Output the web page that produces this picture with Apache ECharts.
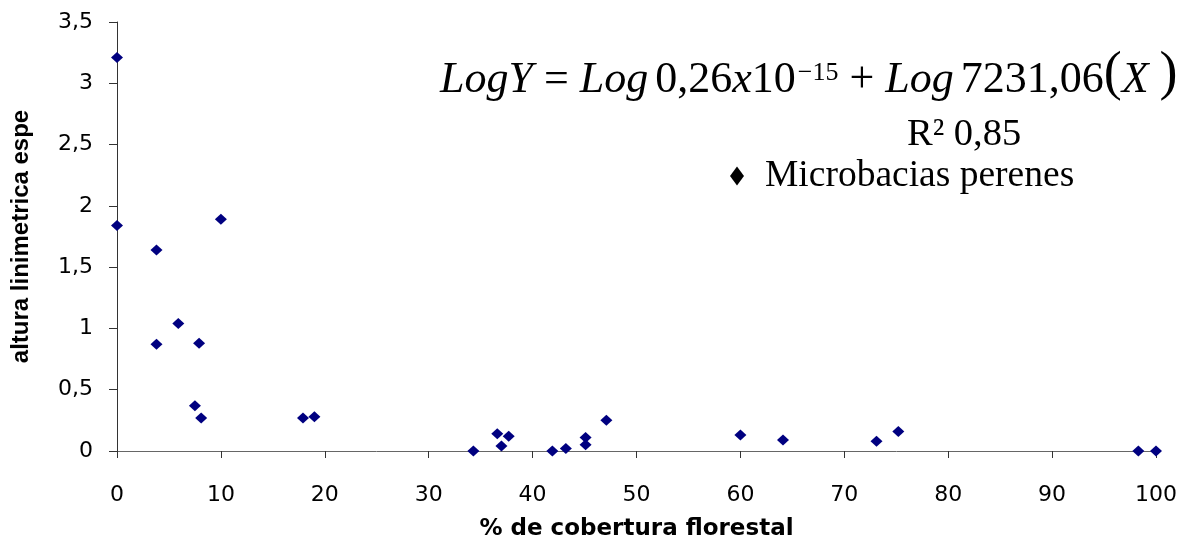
<!DOCTYPE html>
<html>
<head>
<meta charset="utf-8">
<script src="https://cdn.jsdelivr.net/npm/echarts@6/dist/echarts.min.js"></script>
<style>
  html, body { margin: 0; padding: 0; background: #fff; }
  #chart { width: 1190px; height: 540px; }
</style>
</head>
<body>
<div id="chart"></div>
<script>
// % de cobertura florestal for each microbacia
const coverage = [0, 0, 3.8, 10.0, 5.9, 3.8, 7.9, 7.5, 8.1, 17.9, 19.0,
  34.3, 36.6, 37.0, 37.7, 41.9, 43.2, 45.1, 45.1, 47.1,
  60.0, 64.1, 73.1, 75.2, 98.3, 100];
// altura linimetrica especifica for each microbacia
const altura = [3.21, 1.84, 1.64, 1.89, 1.04, 0.87, 0.88, 0.37, 0.27, 0.27, 0.28,
  0, 0.14, 0.04, 0.12, 0, 0.02, 0.11, 0.05, 0.25,
  0.13, 0.09, 0.08, 0.16, 0, 0];
const seriesName = 'Microbacias perenes';
const xTitle = '% de cobertura florestal';
const yTitle = 'altura linimetrica espe';
const r2Text = 'R² 0,85';

const points = coverage.map((x, i) => [x, altura[i]]);
const comma = v => String(v).replace('.', ',');

const chart = echarts.init(document.getElementById('chart'));
const serif = 'Liberation Serif, Times New Roman, serif';
const sans = 'Liberation Sans, Arial, sans-serif';
const wide = 'DejaVu Sans, Verdana, sans-serif';

chart.setOption({
  backgroundColor: '#fff',
  animation: false,
  grid: { left: 117, right: 34, top: 22, bottom: 89, containLabel: false, outerBoundsMode: 'none' },
  xAxis: {
    type: 'value', min: 0, max: 100, interval: 10,
    name: xTitle, nameLocation: 'middle', nameGap: 67,
    nameTextStyle: { fontFamily: wide, fontWeight: 'bold', fontSize: 23, color: '#000' },
    axisLine: { show: true, lineStyle: { color: '#666', width: 1 } },
    axisTick: { show: true, inside: false, length: 7, lineStyle: { color: '#333' } },
    axisLabel: { margin: 33, fontFamily: wide, fontSize: 22, color: '#000', formatter: comma },
    splitLine: { show: false }
  },
  yAxis: {
    type: 'value', min: 0, max: 3.5, interval: 0.5,
    name: yTitle, nameLocation: 'middle', nameGap: 84, nameRotate: 90,
    nameTextStyle: { fontFamily: sans, fontWeight: 'bold', fontSize: 24, color: '#000' },
    axisLine: { show: true, lineStyle: { color: '#333', width: 1 } },
    axisTick: { show: true, inside: false, length: 8, lineStyle: { color: '#333' } },
    axisLabel: { margin: 24, fontFamily: wide, fontSize: 22, color: '#000', formatter: comma },
    splitLine: { show: false }
  },
  legend: {
    show: true, left: 725, top: 152, orient: 'vertical',
    icon: 'diamond', itemWidth: 14, itemHeight: 19, itemGap: 0,
    itemStyle: { color: '#000', opacity: 1 },
    textStyle: { fontFamily: serif, fontSize: 37.5, color: '#000', padding: [0, 0, 0, 16] },
    data: [seriesName]
  },
  graphic: [
    {
      type: 'text', left: 440, top: 48,
      style: {
        text: '{i|LogY}{o|=}{i|Log}{g|0,26}{i|x}{n|10}{s|−15}{o|+}{i|Log}{g|7231,06}{p|(}{i|X }{p|)}',
        rich: {
          i: { fontFamily: serif, fontStyle: 'italic', fontSize: 44, fill: '#000', verticalAlign: 'bottom' },
          n: { fontFamily: serif, fontSize: 44, fill: '#000', verticalAlign: 'bottom' },
          g: { fontFamily: serif, fontSize: 44, fill: '#000', verticalAlign: 'bottom', padding: [0, 0, 0, 7] },
          o: { fontFamily: serif, fontSize: 44, fill: '#000', verticalAlign: 'bottom', padding: [0, 11, 0, 11] },
          s: { fontFamily: serif, fontSize: 26, fill: '#000', verticalAlign: 'top', padding: [12, 0, 0, 2] },
          p: { fontFamily: serif, fontSize: 54, fill: '#000', verticalAlign: 'bottom' }
        }
      }
    },
    {
      type: 'text', left: 907, top: 115,
      style: { text: r2Text, fontFamily: serif, fontSize: 38.5, fill: '#000' }
    }
  ],
  series: [{
    name: seriesName,
    type: 'scatter',
    data: points,
    symbol: 'diamond',
    symbolSize: [12, 11],
    clip: false,
    itemStyle: { color: '#000080', opacity: 1 }
  }]
});
</script>
</body>
</html>
